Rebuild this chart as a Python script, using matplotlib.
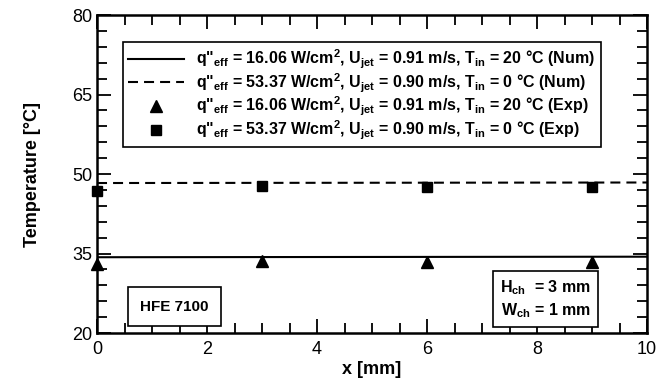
import matplotlib
matplotlib.use("Agg")
import matplotlib.pyplot as plt
from matplotlib.ticker import MultipleLocator

plt.rcParams['font.family'] = ['Liberation Sans', 'DejaVu Sans']
plt.rcParams['mathtext.fontset'] = 'custom'
plt.rcParams['mathtext.rm'] = 'Liberation Sans:bold'
plt.rcParams['mathtext.it'] = 'Liberation Sans:bold'
plt.rcParams['mathtext.bf'] = 'Liberation Sans:bold'

# numerical results (lines)
x_num = [0, 10]
t_num_16 = [34.3, 34.4]
t_num_53 = [48.3, 48.4]

# experimental points
x_exp = [0, 3, 6, 9]
t_exp_16 = [33.1, 33.6, 33.45, 33.45]
t_exp_53 = [46.85, 47.7, 47.6, 47.5]

labels = [
    r'q"$_{\rm eff}$ = 16.06 W/cm$^{\rm 2}$, U$_{\rm jet}$ = 0.91 m/s, T$_{\rm in}$ = 20 °C (Num)',
    r'q"$_{\rm eff}$ = 53.37 W/cm$^{\rm 2}$, U$_{\rm jet}$ = 0.90 m/s, T$_{\rm in}$ = 0 °C (Num)',
    r'q"$_{\rm eff}$ = 16.06 W/cm$^{\rm 2}$, U$_{\rm jet}$ = 0.91 m/s, T$_{\rm in}$ = 20 °C (Exp)',
    r'q"$_{\rm eff}$ = 53.37 W/cm$^{\rm 2}$, U$_{\rm jet}$ = 0.90 m/s, T$_{\rm in}$ = 0 °C (Exp)',
]

fig = plt.figure(figsize=(6.71, 3.83), dpi=100)
ax = fig.add_axes([0.1446, 0.1305, 0.8197, 0.8303])

ax.plot(x_num, t_num_16, color='black', lw=1.5, label=labels[0])
ax.plot(x_num, t_num_53, color='black', lw=1.5, dashes=(4.8, 2.9), label=labels[1])
ax.plot(x_exp, t_exp_16, ls='none', marker='^', ms=9, color='black',
        clip_on=False, zorder=5, label=labels[2])
ax.plot(x_exp, t_exp_53, ls='none', marker='s', ms=7.5, color='black',
        clip_on=False, zorder=5, label=labels[3])

ax.set_xlim(0, 10)
ax.set_ylim(20, 80)
ax.xaxis.set_major_locator(MultipleLocator(2))
ax.xaxis.set_minor_locator(MultipleLocator(0.5))
ax.yaxis.set_major_locator(MultipleLocator(15, offset=5))
ax.yaxis.set_minor_locator(MultipleLocator(3, offset=2))
ax.tick_params(which='both', direction='in', top=True, right=True, labelsize=13, width=1.3)
ax.tick_params(which='major', length=10)
ax.tick_params(which='minor', length=7)
ax.tick_params(axis='x', which='major', pad=6)
for s in ax.spines.values():
    s.set_linewidth(1.8)

ax.set_xlabel('x [mm]', fontsize=13, fontweight='bold', labelpad=2)
ax.set_ylabel('Temperature [°C]', fontsize=13, fontweight='bold', labelpad=22)

leg = ax.legend(loc='upper left', bbox_to_anchor=(0.047, 0.915),
                prop={'weight': 'bold', 'size': 11.5}, frameon=True, fancybox=False,
                edgecolor='black', handlelength=3.5, handletextpad=0.75,
                labelspacing=0.02, borderpad=0.35, borderaxespad=0)
leg.get_frame().set_linewidth(1.2)
leg.get_frame().set_alpha(1)

ax.text(0.141, 0.083, 'HFE 7100', transform=ax.transAxes, ha='center', va='center',
        fontsize=11, fontweight='bold',
        bbox=dict(boxstyle='square,pad=0.8', fc='white', ec='black', lw=1.2))
ax.text(0.816, 0.107, 'H$_{\\rm ch}$  = 3 mm\nW$_{\\rm ch}$ = 1 mm', transform=ax.transAxes,
        ha='center', va='center', fontsize=11.5, fontweight='bold', linespacing=1.35,
        bbox=dict(boxstyle='square,pad=0.45', fc='white', ec='black', lw=1.2))

fig.savefig('out.png', dpi=100)
